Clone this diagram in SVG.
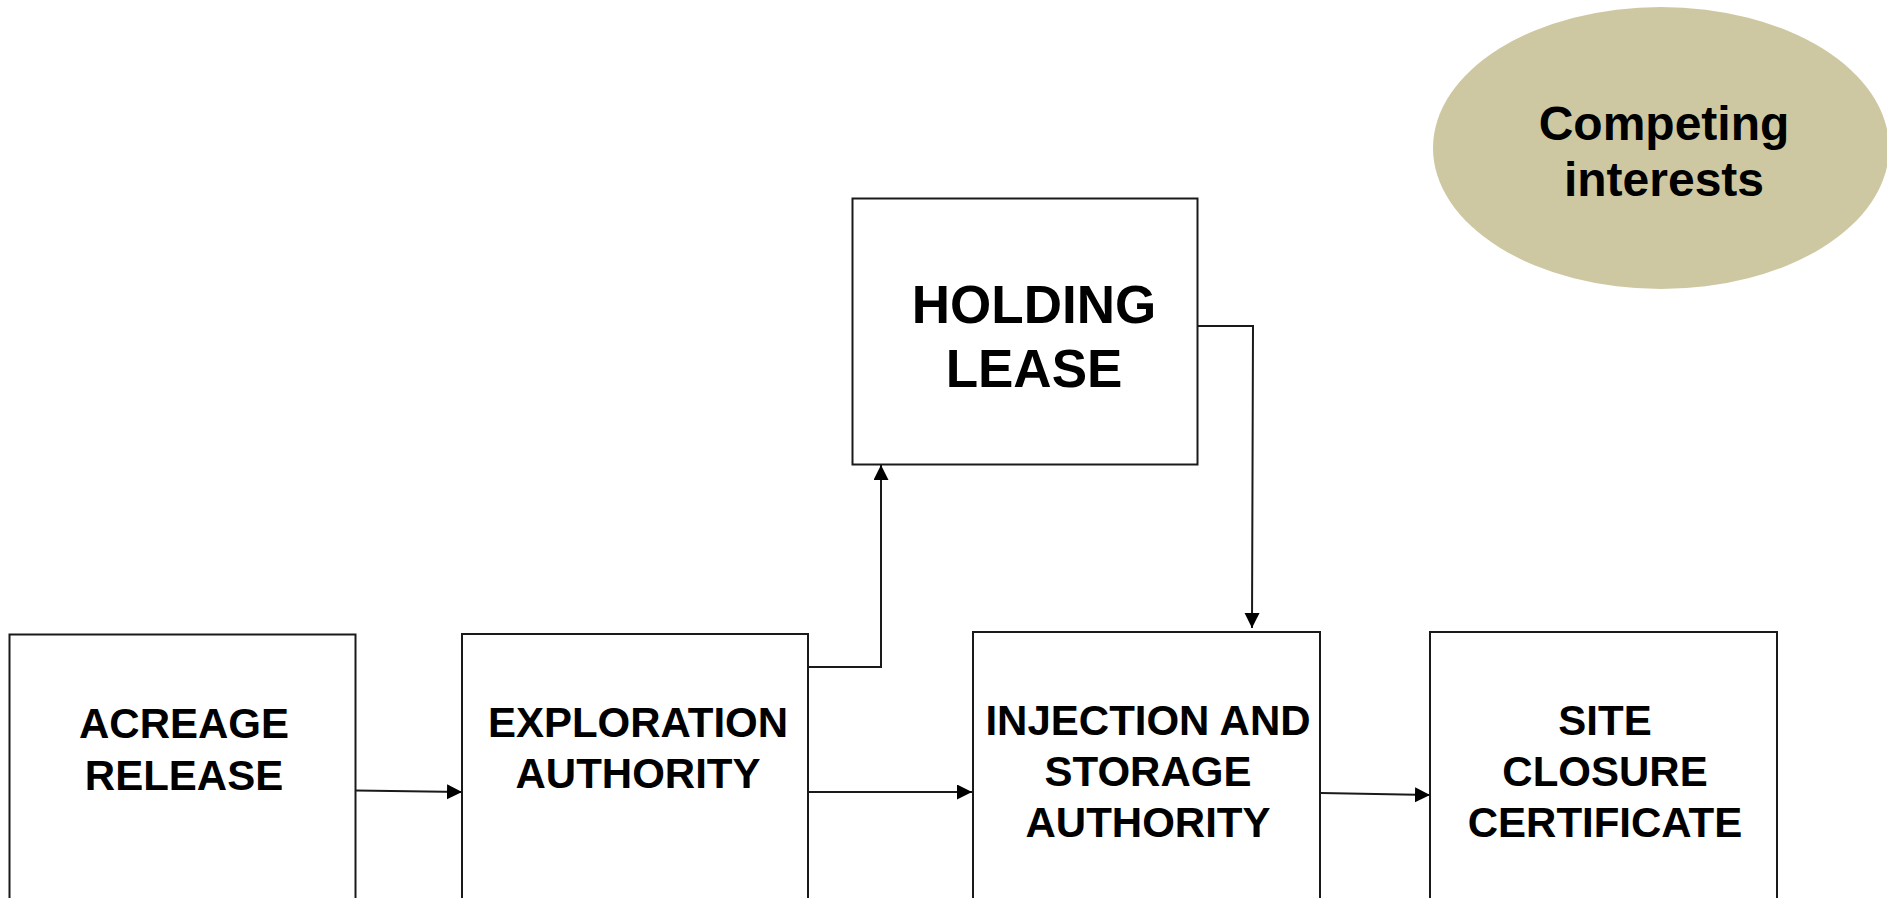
<svg xmlns="http://www.w3.org/2000/svg" width="1887" height="898" viewBox="0 0 1887 898">
<style>
.box{fill:#fff;stroke:#1a1a1a;stroke-width:2}
.lbl{font-family:"Liberation Sans",Arial,sans-serif;font-weight:bold;font-size:42px;fill:#000;text-anchor:middle}
.con{fill:none;stroke:#1a1a1a;stroke-width:2;marker-end:url(#ah)}
</style>
<defs>
<marker id="ah" markerUnits="userSpaceOnUse" markerWidth="16" markerHeight="16" refX="15" refY="7.5" orient="auto">
<path d="M0,0 L15,7.5 L0,15 Z" fill="#000"/>
</marker>
</defs>
<rect width="1887" height="898" fill="#fff"/>
<g id="competing-interests">
<ellipse cx="1661" cy="148" rx="228" ry="141" fill="#CEC8A2"/>
<text class="lbl" x="1664" y="140" style="font-size:48px">Competing</text>
<text class="lbl" x="1664" y="196" style="font-size:48px">interests</text>
</g>
<g id="acreage-release">
<rect class="box" x="9.5" y="634.5" width="346" height="280"/>
<text class="lbl" x="184" y="738">ACREAGE</text>
<text class="lbl" x="184" y="790">RELEASE</text>
</g>
<g id="exploration-authority">
<rect class="box" x="462" y="634" width="346" height="280"/>
<text class="lbl" x="638" y="737">EXPLORATION</text>
<text class="lbl" x="638" y="788">AUTHORITY</text>
</g>
<g id="holding-lease">
<rect class="box" x="852.5" y="198.5" width="345" height="266"/>
<text class="lbl" x="1034" y="323" style="font-size:53px">HOLDING</text>
<text class="lbl" x="1034" y="387" style="font-size:53px">LEASE</text>
</g>
<g id="injection-storage-authority">
<rect class="box" x="973" y="632" width="347" height="282"/>
<text class="lbl" x="1148" y="735">INJECTION AND</text>
<text class="lbl" x="1148" y="786">STORAGE</text>
<text class="lbl" x="1148" y="837">AUTHORITY</text>
</g>
<g id="site-closure-certificate">
<rect class="box" x="1430" y="632" width="347" height="282"/>
<text class="lbl" x="1605" y="735">SITE</text>
<text class="lbl" x="1605" y="786">CLOSURE</text>
<text class="lbl" x="1605" y="837">CERTIFICATE</text>
</g>
<g id="connectors">
<path class="con" d="M356,790.5 L462,792"/>
<path class="con" d="M808,667 L881,667 L881,465"/>
<path class="con" d="M1198,326 L1253,326 L1252,628"/>
<path class="con" d="M808,792 L972,792"/>
<path class="con" d="M1321,793 L1430,795"/>
</g>
</svg>
